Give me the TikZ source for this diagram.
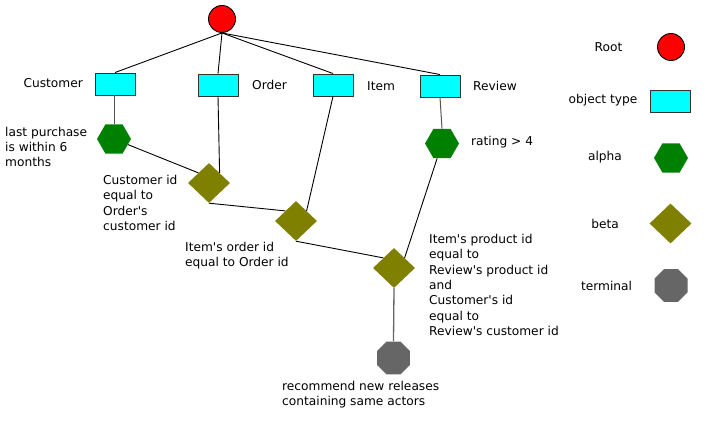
\documentclass[tikz,border=0pt]{standalone}
\usepackage{fontspec}
\setmainfont{DejaVu Sans}
\usetikzlibrary{shapes.geometric}
\newcommand\apos{\textquotesingle}
\definecolor{rootred}{HTML}{FF0000}
\definecolor{objcyan}{HTML}{00FFFF}
\definecolor{objborder}{HTML}{333333}
\definecolor{alphagreen}{HTML}{008000}
\definecolor{betaolive}{HTML}{808000}
\definecolor{termgray}{HTML}{666666}
\definecolor{edgegray}{HTML}{555555}
\tikzset{
  rootst/.style={circle, fill=rootred, draw=black, line width=0.9pt, minimum size=27pt, inner sep=0pt},
  objst/.style={rectangle, fill=objcyan, draw=objborder, line width=0.9pt, minimum width=40pt, minimum height=22pt, inner sep=0pt},
  alphast/.style={regular polygon, regular polygon sides=6, fill=alphagreen, minimum size=34pt, inner sep=0pt},
  betast/.style={diamond, fill=betaolive, minimum width=42pt, minimum height=40pt, inner sep=0pt},
  termst/.style={regular polygon, regular polygon sides=8, fill=termgray, minimum size=35.7pt, inner sep=0pt},
  lbl/.style={inner sep=0pt, font=\fontsize{12.2}{15.3}\selectfont, text=black},
  lblw/.style={lbl, anchor=west, align=left},
  edge/.style={draw=black, line width=0.9pt},
  gedge/.style={draw=edgegray, line width=1pt},
  tedge/.style={draw=termgray, line width=1.3pt},
}
\begin{document}
\begin{tikzpicture}[x=1pt,y=1pt]
\useasboundingbox (0,0) rectangle (708,426);
% nodes
\node[rootst] (root) at (222,407) {};
\node[objst] (cust) at (115,342) {};
\node[objst] (order) at (218,341) {};
\node[objst] (item) at (333,341) {};
\node[objst] (review) at (440,340) {};
\node[alphast] (a1) at (114,287) {};
\node[alphast] (a2) at (442,282.5) {};
\node[betast] (d1) at (209,243) {};
\node[betast] (d2) at (296,205) {};
\node[betast] (d3) at (394,158) {};
\node[termst] (term) at (393.5,68) {};
% edges
\draw[edge] (root.south) -- (cust.north);
\draw[edge] (root.south) -- (order.north);
\draw[edge] (root.south) -- (item.north);
\draw[edge] (root.south) -- (review.north);
\draw[gedge] (a1.north |- cust.south) -- (a1.north);
\draw[gedge] (review.south) -- (a2.north);
\draw[edge] (a1) -- (d1.north west);
\draw[edge] (order.south) -- (d1.north east);
\draw[edge] (d1.south) -- (d2.north west);
\draw[edge] (item.south) -- (d2.north east);
\draw[edge] (d2.south) -- (d3.north west);
\draw[edge] (a2) -- (d3.north east);
\draw[tedge] (d3.south) -- (term.north);
% labels
\node[lbl, anchor=east] (lcust) at (83,343) {Customer};
\node[lblw] (lorder) at (252,341) {Order};
\node[lblw] (litem) at (367,340) {Item};
\node[lblw] (lreview) at (473,340) {Review};
\node[lblw] (lrating) at (471,284) {rating > 4};
\node[lblw] (llast) at (5,279) {last purchase\\is within 6\\months};
\node[lblw] (lcustid) at (103,223) {Customer id\\equal to\\Order\apos s\\customer id};
\node[lblw] (litemord) at (185,170.5) {Item\apos s order id\\equal to Order id};
\node[lblw] (lprod) at (429,141) {Item\apos s product id\\equal to\\Review\apos s product id\\and\\Customer\apos s id\\equal to\\Review\apos s customer id};
\node[lblw] (lrec) at (282,31.5) {recommend new releases\\containing same actors};
% legend
\node[lbl] (kroot) at (608.5,379) {Root};
\node[rootst] (sroot) at (671,379) {};
\node[lbl] (kobj) at (603,326) {object type};
\node[objst] (sobj) at (670.5,324.5) {};
\node[lbl] (kalpha) at (605,269) {alpha};
\node[alphast] (salpha) at (671,268) {};
\node[lbl] (kbeta) at (605,202) {beta};
\node[betast] (sbeta) at (670.5,202.5) {};
\node[lbl] (kterm) at (606.5,140) {terminal};
\node[termst] (sterm) at (671,140.5) {};
\end{tikzpicture}
\end{document}
